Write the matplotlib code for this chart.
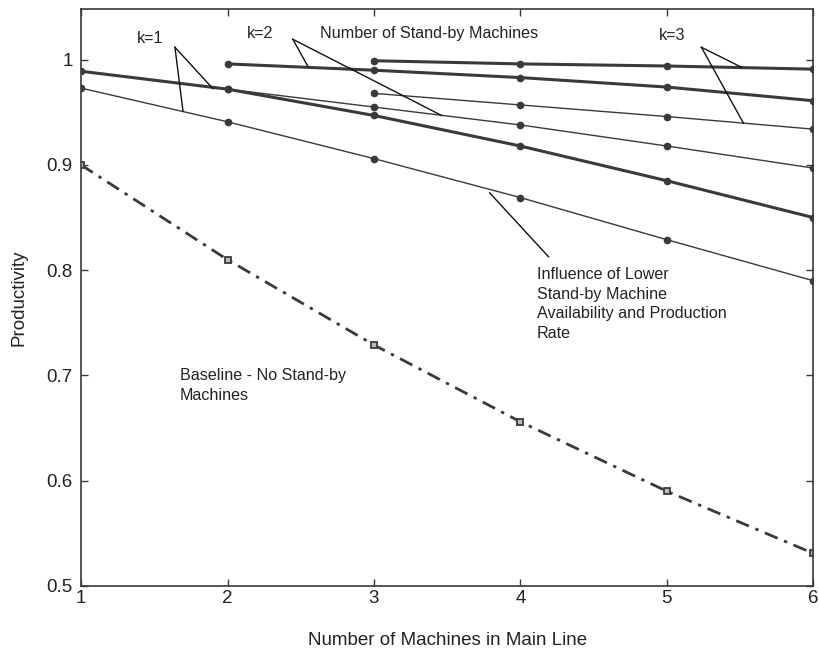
import matplotlib
matplotlib.use("Agg")
import matplotlib.pyplot as plt

plt.rcParams['font.family'] = ['Liberation Sans', 'DejaVu Sans']

# number of machines in main line
machines = [1, 2, 3, 4, 5, 6]

# baseline - no stand-by machines
baseline = [0.900, 0.810, 0.729, 0.656, 0.590, 0.531]

# k = number of stand-by machines; "high" = full availability, "low" = lower availability/rate
k1_x = [1, 2, 3, 4, 5, 6]
k1_high = [0.989, 0.972, 0.947, 0.918, 0.885, 0.850]
k1_low = [0.973, 0.941, 0.906, 0.869, 0.829, 0.790]

k2_x = [2, 3, 4, 5, 6]
k2_high = [0.996, 0.990, 0.983, 0.974, 0.961]
k2_low = [0.972, 0.955, 0.938, 0.918, 0.897]

k3_x = [3, 4, 5, 6]
k3_high = [0.999, 0.996, 0.994, 0.991]
k3_low = [0.968, 0.957, 0.946, 0.934]

ytick_vals = [0.5, 0.6, 0.7, 0.8, 0.9, 1.0]
ytick_labels = ['0.5', '0.6', '0.7', '0.8', '0.9', '1']

ink = '#3a3a3a'
txt = '#222222'

fig = plt.figure(figsize=(8.19, 6.54), dpi=100)
ax = fig.add_axes([0.099, 0.104, 0.894, 0.882])

thick = dict(color=ink, lw=2.2, marker='o', ms=4.5, mfc=ink, mec=ink)
thin = dict(color=ink, lw=1.0, marker='o', ms=4.5, mfc=ink, mec=ink)

ax.plot(k1_x, k1_low, **thin)
ax.plot(k2_x, k2_low, **thin)
ax.plot(k3_x, k3_low, **thin)
ax.plot(k1_x, k1_high, **thick)
ax.plot(k2_x, k2_high, **thick)
ax.plot(k3_x, k3_high, **thick)

ax.plot(machines, baseline, color=ink, lw=2.0, linestyle=(0, (5, 2.5, 1.2, 2.5)),
        marker='s', ms=5, mfc='#bbbbbb', mec=ink, mew=1.3)

ax.set_xlim(1, 6)
ax.set_ylim(0.5, 1.048)
ax.set_xticks(machines)
ax.set_yticks(ytick_vals)
ax.set_yticklabels(ytick_labels)
ax.tick_params(direction='in', length=5, width=1, colors=ink, labelcolor=txt,
               labelsize=13.5, top=True, right=True)
ax.tick_params(axis='x', pad=3)
ax.tick_params(axis='y', pad=6)
for s in ax.spines.values():
    s.set_color(ink)
    s.set_linewidth(1.2)

ax.set_xlabel('Number of Machines in Main Line', fontsize=13.5, color=txt, labelpad=18)
ax.set_ylabel('Productivity', fontsize=13.5, color=txt, labelpad=14)

# annotations
fs = 11.6
ax.text(1.382, 1.0204, 'k=1', fontsize=fs, color=txt, va='center')
ax.text(2.132, 1.0246, 'k=2', fontsize=fs, color=txt, va='center')
ax.text(2.630, 1.0250, 'Number of Stand-by Machines', fontsize=fs, color=txt, va='center')
ax.text(4.943, 1.0227, 'k=3', fontsize=fs, color=txt, va='center')
ax.text(4.110, 0.8030, 'Influence of Lower\nStand-by Machine\nAvailability and Production\nRate',
        fontsize=fs, color=txt, va='top', linespacing=1.38)
ax.text(1.675, 0.7070, 'Baseline - No Stand-by\nMachines', fontsize=fs, color=txt,
        va='top', linespacing=1.38)

leaders = [
    ((1.641, 1.0118), (1.900, 0.9725)),
    ((1.641, 1.0118), (1.696, 0.9510)),
    ((2.446, 1.0194), (2.548, 0.9938)),
    ((2.446, 1.0194), (3.462, 0.9470)),
    ((5.236, 1.0118), (5.509, 0.9929)),
    ((5.236, 1.0118), (5.523, 0.9398)),
    ((3.790, 0.8735), (4.192, 0.8128)),
]
for (x0, y0), (x1, y1) in leaders:
    ax.plot([x0, x1], [y0, y1], color='#111111', lw=1.0)

fig.savefig('out.png', dpi=100)
